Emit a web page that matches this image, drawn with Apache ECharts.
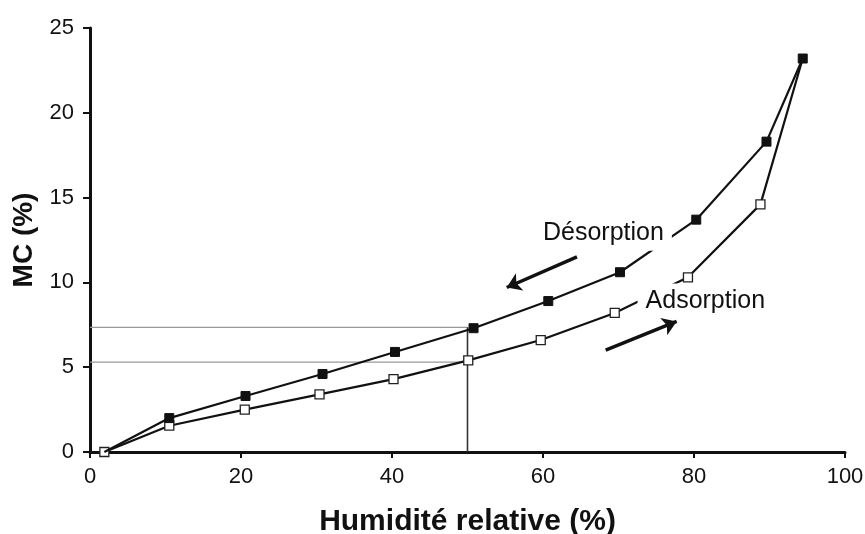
<!DOCTYPE html>
<html>
<head>
<meta charset="utf-8">
<script src="https://cdn.jsdelivr.net/npm/echarts@6/dist/echarts.min.js"></script>
<style>
html,body{margin:0;padding:0;background:#fff;}
#chart{width:865px;height:534px;}
</style>
</head>
<body>
<div id="chart"></div>
<script>
// Data
const desorptionX = [1.9, 10.5, 20.6, 30.8, 40.4, 50.8, 60.7, 70.2, 80.3, 89.6, 94.4];
const desorptionY = [0.0, 2.0, 3.3, 4.6, 5.9, 7.3, 8.9, 10.6, 13.7, 18.3, 23.2];
const adsorptionX = [1.9, 10.5, 20.5, 30.4, 40.2, 50.1, 59.7, 69.5, 79.2, 88.8, 94.4];
const adsorptionY = [0.0, 1.55, 2.5, 3.4, 4.3, 5.4, 6.6, 8.2, 10.3, 14.6, 23.2];
const refHumidity = 50;
const refDesorption = 7.35;
const refAdsorption = 5.3;
const labelTexts = ['Désorption', 'Adsorption'];
const labelPos = [[68.0, 12.9], [81.5, 8.9]];
const desArrow = [[64.5, 11.5], [55.2, 9.7]];
const adsArrow = [[68.3, 6.0], [77.7, 7.7]];
const xTicks = [0, 20, 40, 60, 80, 100];
const yTicks = [0, 5, 10, 15, 20, 25];

const zip = (a, b) => a.map((v, i) => [v, b[i]]);
const FONT = '"Liberation Sans", Arial, Helvetica, sans-serif';

// shared first point: show the open square there, filled square on the shared last point
const desData = zip(desorptionX, desorptionY).map((p, i) => i === 0 ? {value: p, symbol: 'none'} : p);
const adsData = zip(adsorptionX, adsorptionY).map((p, i, arr) => i === arr.length - 1 ? {value: p, symbol: 'none'} : p);

const chart = echarts.init(document.getElementById('chart'), null, {renderer: 'canvas'});
chart.setOption({
  animation: false,
  backgroundColor: '#fff',
  grid: {left: 90, right: 20, top: 28, bottom: 82, containLabel: false, outerBoundsMode: 'none'},
  xAxis: {
    type: 'value', min: xTicks[0], max: xTicks[xTicks.length - 1], interval: 20,
    name: 'Humidité relative (%)', nameLocation: 'middle', nameGap: 55,
    nameTextStyle: {fontFamily: FONT, fontSize: 30, fontWeight: 'bold', color: '#111'},
    axisLine: {show: true, onZero: false, lineStyle: {color: '#111', width: 3}},
    axisTick: {show: true, length: 6, lineStyle: {color: '#111', width: 2}},
    axisLabel: {fontFamily: FONT, fontSize: 22, color: '#111', margin: 14},
    splitLine: {show: false}
  },
  yAxis: {
    type: 'value', min: yTicks[0], max: yTicks[yTicks.length - 1], interval: 5,
    name: 'MC (%)', nameLocation: 'middle', nameGap: 50, nameRotate: 90,
    nameTextStyle: {fontFamily: FONT, fontSize: 28, fontWeight: 'bold', color: '#111'},
    axisLine: {show: true, onZero: false, lineStyle: {color: '#111', width: 3}},
    axisTick: {show: true, length: 7, lineStyle: {color: '#111', width: 2}},
    axisLabel: {fontFamily: FONT, fontSize: 22, color: '#111', margin: 16},
    splitLine: {show: false}
  },
  series: [
    {
      type: 'line', name: 'refH1', data: [[0, refDesorption], [refHumidity, refDesorption]],
      symbol: 'none', lineStyle: {color: '#999', width: 1.4}, z: 1, silent: true
    },
    {
      type: 'line', name: 'refH2', data: [[0, refAdsorption], [refHumidity, refAdsorption]],
      symbol: 'none', lineStyle: {color: '#999', width: 1.4}, z: 1, silent: true
    },
    {
      type: 'line', name: 'refV', data: [[refHumidity, 0], [refHumidity, refDesorption]],
      symbol: 'none', lineStyle: {color: '#333', width: 1.6}, z: 1, silent: true
    },
    {
      type: 'line', name: 'Adsorption', data: adsData,
      symbol: 'rect', symbolSize: 9, showAllSymbol: true,
      lineStyle: {color: '#111', width: 2.2},
      itemStyle: {color: '#fff', borderColor: '#222', borderWidth: 1.3},
      z: 3
    },
    {
      type: 'line', name: 'Désorption', data: desData,
      symbol: 'rect', symbolSize: 9, showAllSymbol: true,
      lineStyle: {color: '#111', width: 2.2},
      itemStyle: {color: '#111', borderColor: '#111', borderWidth: 1},
      z: 4
    },
    {
      type: 'scatter', name: 'labels', data: labelPos.map((p, i) => ({value: p, name: labelTexts[i]})),
      symbolSize: 1, itemStyle: {color: 'rgba(255,255,255,0)', opacity: 1}, z: 10, silent: true,
      label: {
        show: true, position: 'inside', formatter: p => p.name,
        fontFamily: FONT, fontSize: 25, color: '#111', opacity: 1,
        backgroundColor: '#fff', padding: [5, 8]
      }
    },
    {
      type: 'lines', coordinateSystem: 'cartesian2d', z: 11, silent: true,
      symbol: ['none', 'arrow'], symbolSize: 14,
      lineStyle: {color: '#111', width: 3.5, opacity: 1},
      data: [{coords: desArrow}, {coords: adsArrow}]
    }
  ]
});
</script>
</body>
</html>
